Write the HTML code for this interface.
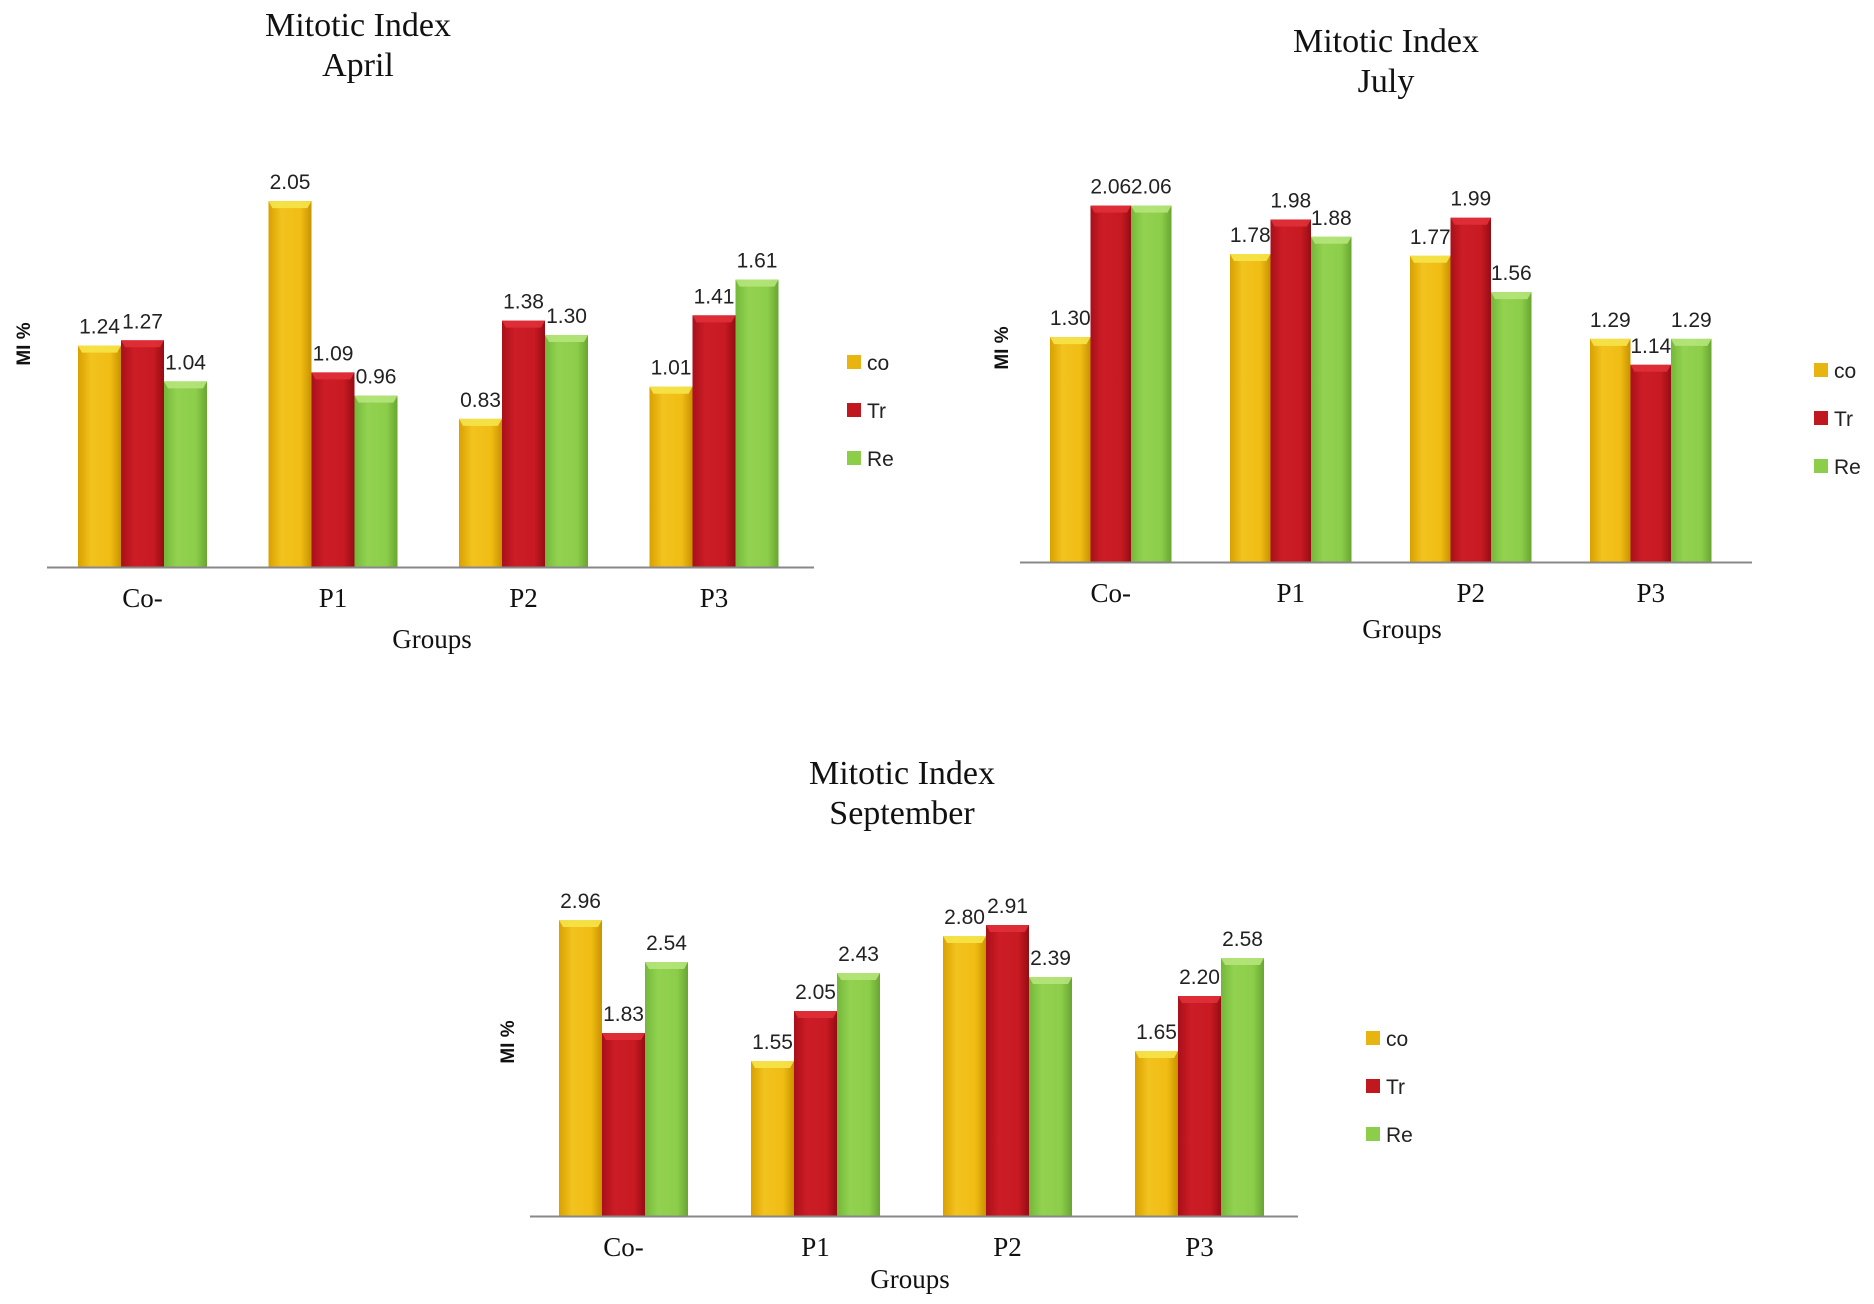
<!DOCTYPE html>
<html><head><meta charset="utf-8">
<style>
html,body{margin:0;padding:0;background:#fff;}
svg{display:block;}
.title{font-family:"Liberation Serif",serif;font-size:34px;fill:#111;text-anchor:middle;}
.cat{font-family:"Liberation Serif",serif;font-size:27px;fill:#111;text-anchor:middle;}
.axt{font-family:"Liberation Serif",serif;font-size:27px;fill:#111;text-anchor:middle;}
.val{font-family:"Liberation Sans",sans-serif;font-size:21px;fill:#222;text-anchor:middle;}
.leg{font-family:"Liberation Sans",sans-serif;font-size:21px;fill:#222;}
.yt{font-family:"Liberation Sans",sans-serif;font-size:19px;font-weight:bold;fill:#111;text-anchor:middle;}
</style></head>
<body>
<svg id="chart" width="1874" height="1304" viewBox="0 0 1874 1304" xmlns="http://www.w3.org/2000/svg">
<defs>
<linearGradient id="g-co" x1="0" x2="1"><stop offset="0" stop-color="#d9a000"/><stop offset="0.3" stop-color="#f2c21e"/><stop offset="0.75" stop-color="#f0bd14"/><stop offset="1" stop-color="#c99200"/></linearGradient>
<linearGradient id="g-tr" x1="0" x2="1"><stop offset="0" stop-color="#a8101a"/><stop offset="0.3" stop-color="#cc1d26"/><stop offset="0.75" stop-color="#c81a22"/><stop offset="1" stop-color="#960c14"/></linearGradient>
<linearGradient id="g-re" x1="0" x2="1"><stop offset="0" stop-color="#74b83a"/><stop offset="0.3" stop-color="#92d250"/><stop offset="0.75" stop-color="#8ccd4a"/><stop offset="1" stop-color="#68a630"/></linearGradient>
</defs>
</svg>
<script>
const categories = ["Co-", "P1", "P2", "P3"];
const seriesNames = ["co", "Tr", "Re"];
const aprilCo = [1.24, 2.05, 0.83, 1.01];
const aprilTr = [1.27, 1.09, 1.38, 1.41];
const aprilRe = [1.04, 0.96, 1.30, 1.61];
const julyCo = [1.30, 1.78, 1.77, 1.29];
const julyTr = [2.06, 1.98, 1.99, 1.14];
const julyRe = [2.06, 1.88, 1.56, 1.29];
const septCo = [2.96, 1.55, 2.80, 1.65];
const septTr = [1.83, 2.05, 2.91, 2.20];
const septRe = [2.54, 2.43, 2.39, 2.58];

const NS = "http://www.w3.org/2000/svg";
const svg = document.getElementById("chart");
function mk(tag, attrs, parent, text){
  const e = document.createElementNS(NS, tag);
  for (const k in attrs) e.setAttribute(k, attrs[k]);
  if (text !== undefined) e.textContent = text;
  (parent || svg).appendChild(e);
  return e;
}
const fills = ["url(#g-co)", "url(#g-tr)", "url(#g-re)"];
const caps = ["#f6e44a", "#e0303a", "#b5e47a"];
const legendColors = ["#e8b410", "#c0181e", "#8ccd4a"];

function drawChart(cfg, name, series){
  const g = mk("g", {});
  
  
  const yScale = v => cfg.base - v * cfg.ppu;
  const xBar = (ci, si) => cfg.x0 + ci * cfg.step + si * cfg.bw;
  const t1 = mk("text", {class:"title", x:cfg.tx, y:cfg.ty1}, g, "Mitotic Index");
  
  
  const t2 = mk("text", {class:"title", x:cfg.tx, y:cfg.ty2}, g, cfg.month);
  
  
  series.forEach((vals, si) => {
    vals.forEach((v, ci) => {
      const x = xBar(ci, si), y = yScale(v), h = cfg.base - y;
      const r = mk("rect", {x:x, y:y, width:cfg.bw, height:h, fill:fills[si]}, g);
      
      
      mk("polygon", {points:`${x},${y} ${x+cfg.bw},${y} ${x+cfg.bw-4},${y+7} ${x+4},${y+7}`, fill:caps[si], opacity:0.9}, g);
      const lb = mk("text", {class:"val", x:x + cfg.bw/2, y:y - 12}, g, v.toFixed(2));
      
      
    });
  });
  const ax = mk("line", {x1:cfg.ax1, x2:cfg.ax2, y1:cfg.base+0.5, y2:cfg.base+0.5, stroke:"#888", "stroke-width":2}, g);
  
  
  categories.forEach((c, ci) => {
    const t = mk("text", {class:"cat", x:cfg.x0 + ci*cfg.step + cfg.bw*1.5, y:cfg.base + 40}, g, c);
    
    
  });
  const xt = mk("text", {class:"axt", x:cfg.gx, y:cfg.gy}, g, "Groups");
  
  
  const yt = mk("text", {class:"yt", x:0, y:0, transform:`translate(${cfg.mx},${cfg.my}) rotate(-90)`}, g, "MI %");
  
  
  seriesNames.forEach((s, si) => {
    const ly = cfg.ly + si * cfg.lstep;
    const sq = mk("rect", {x:cfg.lx, y:ly - 8, width:14, height:14, fill:legendColors[si]}, g);
    
    
    const lt = mk("text", {class:"leg", x:cfg.lx + 20, y:ly + 7}, g, s);
    
    
  });
}

drawChart({month:"April", base:567, ppu:178.5, x0:78, step:190.5, bw:43, ax1:47, ax2:814,
  tx:358, ty1:36, ty2:76, gx:432, gy:648, mx:30, my:344, lx:847, ly:363, lstep:48},
  "april", [aprilCo, aprilTr, aprilRe]);
drawChart({month:"July", base:562, ppu:173, x0:1050, step:180, bw:40.5, ax1:1020, ax2:1752,
  tx:1386, ty1:52, ty2:92, gx:1402, gy:638, mx:1008, my:348, lx:1814, ly:371, lstep:48},
  "july", [julyCo, julyTr, julyRe]);
drawChart({month:"September", base:1216, ppu:100, x0:559, step:192, bw:43, ax1:530, ax2:1298,
  tx:902, ty1:784, ty2:824, gx:910, gy:1288, mx:514, my:1042, lx:1366, ly:1039, lstep:48},
  "september", [septCo, septTr, septRe]);
</script>
</body></html>
